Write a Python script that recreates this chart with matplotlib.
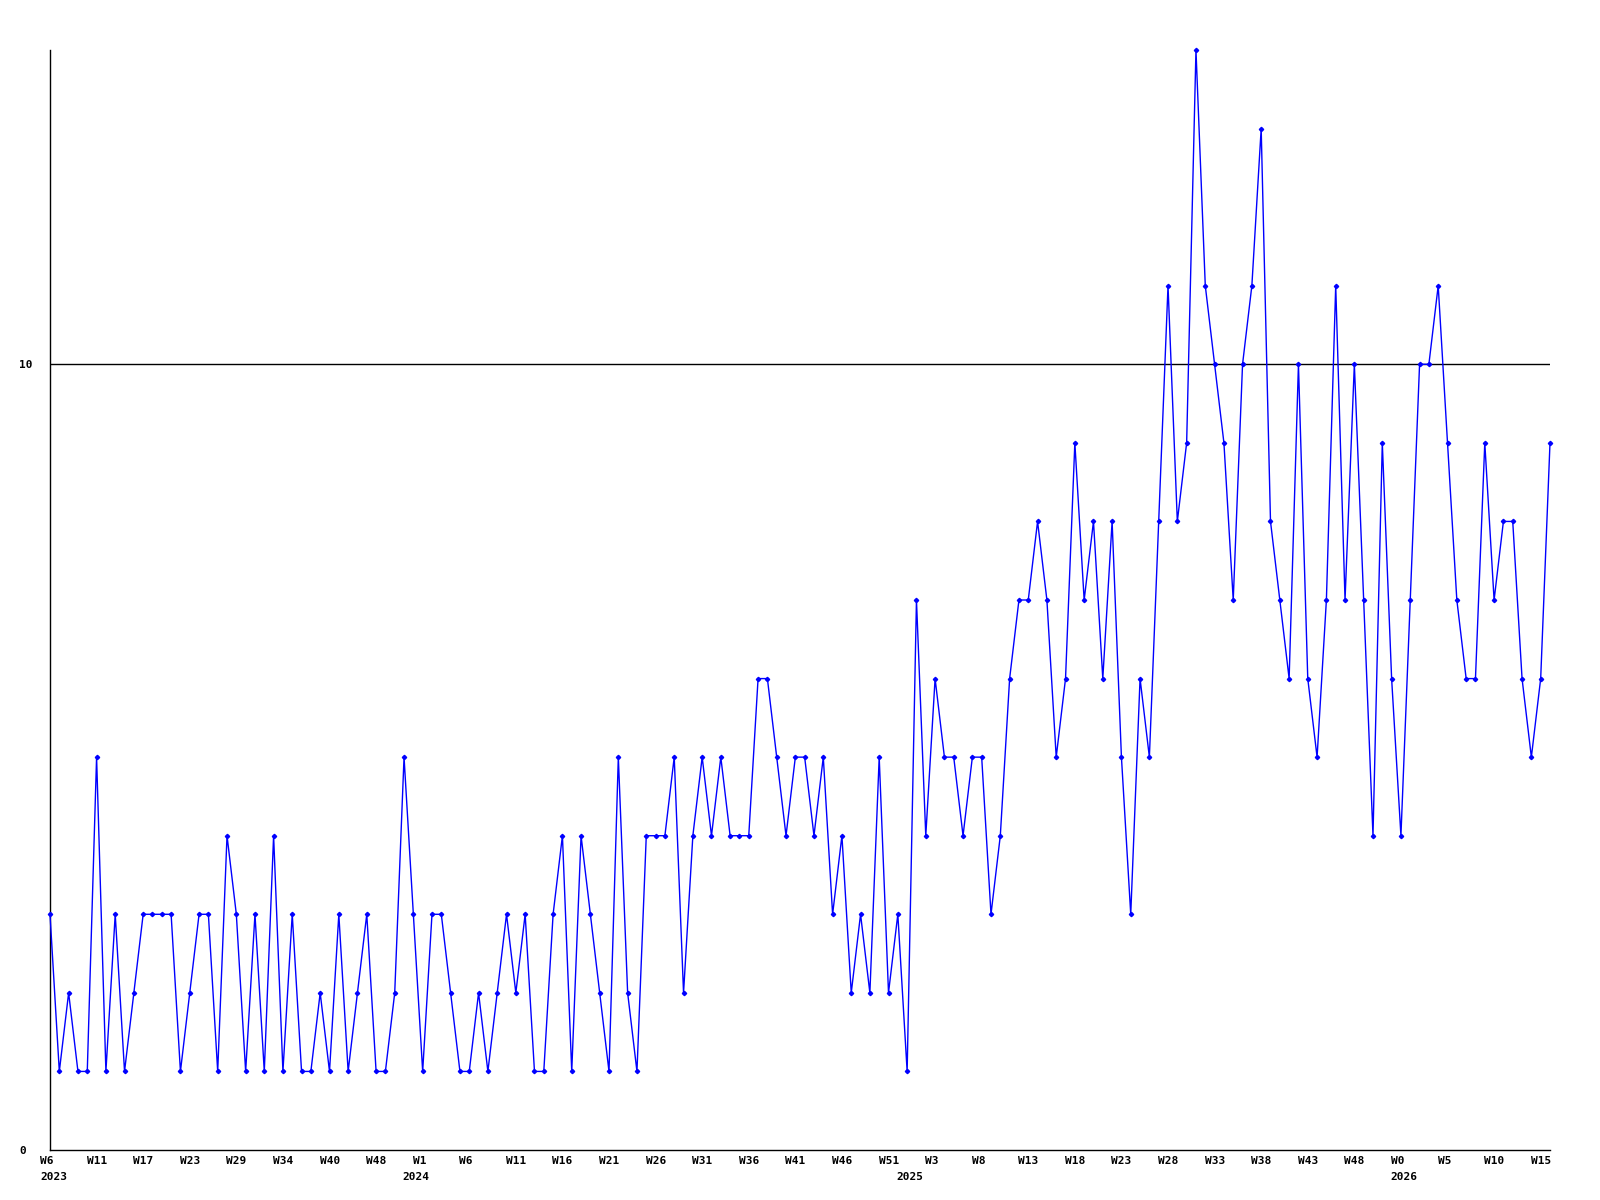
import numpy as np
import matplotlib.pyplot as plt
from matplotlib.transforms import ScaledTranslation

# weekly counts, one value per point
values = [3, 1, 2, 1, 1, 5, 1, 3, 1, 2, 3, 3, 3, 3, 1, 2, 3, 3, 1, 4,
          3, 1, 3, 1, 4, 1, 3, 1, 1, 2, 1, 3, 1, 2, 3, 1, 1, 2, 5, 3,
          1, 3, 3, 2, 1, 1, 2, 1, 2, 3, 2, 3, 1, 1, 3, 4, 1, 4, 3, 2,
          1, 5, 2, 1, 4, 4, 4, 5, 2, 4, 5, 4, 5, 4, 4, 4, 6, 6, 5, 4,
          5, 5, 4, 5, 3, 4, 2, 3, 2, 5, 2, 3, 1, 7, 4, 6, 5, 5, 4, 5,
          5, 3, 4, 6, 7, 7, 8, 7, 5, 6, 9, 7, 8, 6, 8, 5, 3, 6, 5, 8,
          11, 8, 9, 14, 11, 10, 9, 7, 10, 11, 13, 8, 7, 6, 10, 6, 5, 7, 11, 7,
          10, 7, 4, 9, 6, 4, 7, 10, 10, 11, 9, 7, 6, 6, 9, 7, 8, 8, 6, 5,
          6, 9]

week_labels = ['W6', 'W11', 'W17', 'W23', 'W29', 'W34', 'W40', 'W48', 'W1', 'W6',
               'W11', 'W16', 'W21', 'W26', 'W31', 'W36', 'W41', 'W46', 'W51', 'W3',
               'W8', 'W13', 'W18', 'W23', 'W28', 'W33', 'W38', 'W43', 'W48', 'W0',
               'W5', 'W10', 'W15']
week_ticks = list(range(0, 5 * len(week_labels), 5))

year_labels = ['2023', '2024', '2025', '2026']
year_ticks = [0, 40, 93, 146]

yticks = [0, 10]

font = dict(family='DejaVu Sans Mono', weight='bold', size=8)

fig = plt.figure(figsize=(16, 12), dpi=100)
ax = fig.add_axes([50 / 1600, 50 / 1200, 1500 / 1600, 1100 / 1200])

x = np.arange(len(values))
ax.axhline(10, color='black', lw=1, zorder=1)
ax.plot(x, values, color='#0000ff', lw=1, marker='D', markersize=2.2,
        clip_on=False, zorder=3)

ax.set_xlim(0, len(values) - 1)
ax.set_ylim(0, 14)

for s in ['top', 'right']:
    ax.spines[s].set_visible(False)
for s in ['left', 'bottom']:
    ax.spines[s].set_color('black')
    ax.spines[s].set_linewidth(1)

ax.set_yticks(yticks)
ax.set_yticklabels([str(v) for v in yticks], fontdict=font, ha='left')
ax.tick_params(axis='y', length=0, pad=22)

ax.set_xticks(week_ticks)
ax.set_xticklabels(week_labels, fontdict=font, ha='left')
ax.tick_params(axis='x', length=0, pad=4)
shift = ScaledTranslation(-10 / 100, 0, fig.dpi_scale_trans)
for lab in ax.get_xticklabels():
    lab.set_transform(lab.get_transform() + shift)

for k, (pos, lab) in enumerate(zip(year_ticks, year_labels)):
    off = -10 if k == 0 else -20
    t = ax.text(pos, -0.0245, lab, transform=ax.get_xaxis_transform(),
                ha='left', va='center', **font)
    t.set_transform(t.get_transform() + ScaledTranslation(off / 100, 0, fig.dpi_scale_trans))

fig.savefig('out.png', dpi=100, facecolor='white')
